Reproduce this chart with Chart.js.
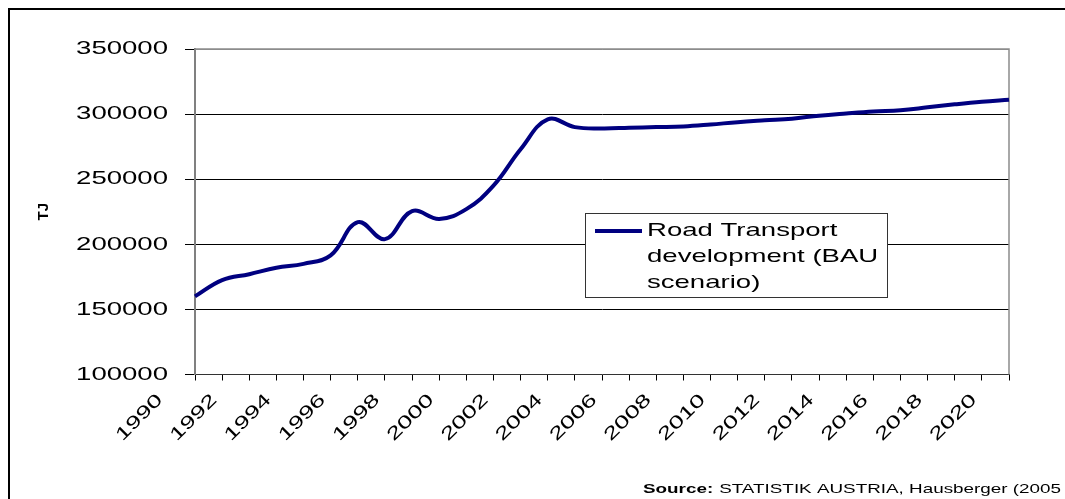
<!DOCTYPE html>
<html>
<head>
<meta charset="utf-8">
<script src="https://cdn.jsdelivr.net/npm/chart.js@4.4.1/dist/chart.umd.min.js"></script>
<style>
  html, body { margin: 0; padding: 0; background: #fff; }
</style>
</head>
<body>
<canvas id="road-chart" width="1065" height="499"></canvas>
<script>
// data (TJ per year)
const years = [1991, 1992, 1993, 1994, 1995, 1996, 1997, 1998, 1999, 2000,
  2001, 2002, 2003, 2004, 2005, 2006, 2007, 2008, 2009, 2010,
  2011, 2012, 2013, 2014, 2015, 2016, 2017, 2018, 2019, 2020, 2021]
const energyTJ = [160000, 172500, 177000, 182000, 185000, 191500, 217000, 204000, 225500, 219500,
  227000, 245000, 273000, 296000, 290000, 289000, 289500, 290000, 290500, 292000,
  293800, 295200, 296500, 298800, 300500, 302000, 303000, 305200, 307500, 309500, 311000]
const yTicks = [100000, 150000, 200000, 250000, 300000, 350000]
const tickYears = [1990, 1992, 1994, 1996, 1998, 2000, 2002, 2004, 2006, 2008,
  2010, 2012, 2014, 2016, 2018, 2020]
const yTitle = 'TJ'
const seriesLabel = 'Road Transport development (BAU scenario)'
const legendLines = ['Road Transport', 'development (BAU', 'scenario)']
const sourceNote = ['Source:', 'STATISTIK AUSTRIA, Hausberger (2005']

const lineColor = '#000080'
const FONT = '"Liberation Sans", Arial, sans-serif'

// the original text is stretched along its baseline, do the same here
const STRETCH = 1.45
const canvas = document.getElementById('road-chart')
const ctx = canvas.getContext('2d')
const baseFill = ctx.fillText.bind(ctx)
const baseMeasure = ctx.measureText.bind(ctx)
ctx.fillText = (text, x, y) => {
  ctx.save()
  ctx.translate(x, y)
  ctx.scale(STRETCH, 1)
  baseFill(text, 0, 0)
  ctx.restore()
}
ctx.measureText = text => {
  const m = baseMeasure(text)
  return {
    width: m.width * STRETCH,
    actualBoundingBoxAscent: m.actualBoundingBoxAscent,
    actualBoundingBoxDescent: m.actualBoundingBoxDescent
  }
}

Chart.defaults.color = '#000'
Chart.defaults.font.family = FONT

const framePlugin = {
  id: 'frame',
  beforeDraw(chart) {
    const c = chart.ctx
    c.save()
    c.fillStyle = '#fff'
    c.fillRect(0, 0, chart.width, chart.height)
    c.fillStyle = '#000'
    c.fillRect(8, 8, chart.width - 8, 2)
    c.fillRect(8, 8, 2, chart.height - 8)
    c.restore()
  },
  beforeDatasetsDraw(chart) {
    const { left, top, right, bottom } = chart.chartArea
    const c = chart.ctx
    c.save()
    c.strokeStyle = '#8c8c8c'
    c.lineWidth = 1.5
    c.beginPath()
    c.moveTo(left, top)
    c.lineTo(right, top)
    c.lineTo(right, bottom)
    c.stroke()
    c.restore()
  },
  afterDraw(chart) {
    // axis title is not stretched in the original
    const { top, bottom } = chart.chartArea
    const c = chart.ctx
    c.save()
    c.translate(44, (top + bottom) / 2)
    c.rotate(-Math.PI / 2)
    c.fillStyle = '#000'
    c.font = 'bold 15px ' + FONT
    c.textAlign = 'center'
    c.textBaseline = 'middle'
    baseFill(yTitle, 0, 0)
    c.restore()
  }
}

const legendPlugin = {
  id: 'boxLegend',
  afterDraw(chart) {
    const c = chart.ctx
    const ds = chart.data.datasets[0]
    const x = 585, y = 213, w = 302, h = 84
    c.save()
    c.fillStyle = '#fff'
    c.fillRect(x, y, w, h)
    c.strokeStyle = '#333'
    c.lineWidth = 1
    c.strokeRect(x + 0.5, y + 0.5, w, h)
    c.strokeStyle = ds.borderColor
    c.lineWidth = 4
    c.beginPath()
    c.moveTo(x + 10, y + 18)
    c.lineTo(x + 57, y + 18)
    c.stroke()
    c.fillStyle = '#000'
    c.font = '19px ' + FONT
    c.textBaseline = 'middle'
    legendLines.forEach((t, i) => c.fillText(t, x + 62, y + 18 + i * 26))
    c.restore()
  }
}

const sourcePlugin = {
  id: 'sourceNote',
  afterDraw(chart) {
    const c = chart.ctx
    c.save()
    c.fillStyle = '#000'
    c.textBaseline = 'alphabetic'
    c.font = 'bold 13px ' + FONT
    c.fillText(sourceNote[0], 643, 493)
    const w = c.measureText(sourceNote[0]).width
    c.font = '13px ' + FONT
    c.fillText(sourceNote[1], 643 + w + 6, 493)
    c.restore()
  }
}

new Chart(ctx, {
  type: 'line',
  data: {
    datasets: [{
      label: seriesLabel,
      data: years.map((yr, i) => ({ x: yr, y: energyTJ[i] })),
      borderColor: lineColor,
      borderWidth: 4,
      pointRadius: 0,
      tension: 0.4,
      clip: false
    }]
  },
  options: {
    responsive: false,
    animation: false,
    devicePixelRatio: 1,
    layout: {
      padding: { left: 30, top: 49, right: 56, bottom: 0 }
    },
    plugins: {
      legend: { display: false },
      tooltip: { enabled: false }
    },
    scales: {
      x: {
        type: 'linear',
        min: years[0],
        max: years[years.length - 1],
        afterFit: scale => { scale.height = 124.5 },
        afterBuildTicks: scale => {
          scale.ticks = years.map(v => ({ value: v }))
        },
        grid: {
          drawOnChartArea: false,
          tickLength: 6,
          tickColor: '#000'
        },
        border: { color: '#333', width: 1 },
        ticks: {
          autoSkip: false,
          minRotation: 45,
          maxRotation: 45,
          padding: 9,
          labelOffset: -35,
          font: { size: 18 },
          // each label sits one slot to the left of its tick
          callback: v => tickYears.includes(v - 1) ? String(v - 1) : ''
        }
      },
      y: {
        min: yTicks[0],
        max: yTicks[yTicks.length - 1],
        afterFit: scale => { scale.width = 165 },
        afterBuildTicks: scale => {
          scale.ticks = yTicks.map(v => ({ value: v }))
        },
        grid: {
          color: c => (c.tick && (c.tick.value === 350000 || c.tick.value === 100000)) ? '#8c8c8c' : '#000',
          lineWidth: 1,
          tickLength: 10,
          tickColor: '#000'
        },
        border: { color: '#808080', width: 2 },
        ticks: {
          padding: 17,
          font: { size: 19 },
          callback: v => String(v)
        }
      }
    }
  },
  plugins: [framePlugin, legendPlugin, sourcePlugin]
})
</script>
</body>
</html>
